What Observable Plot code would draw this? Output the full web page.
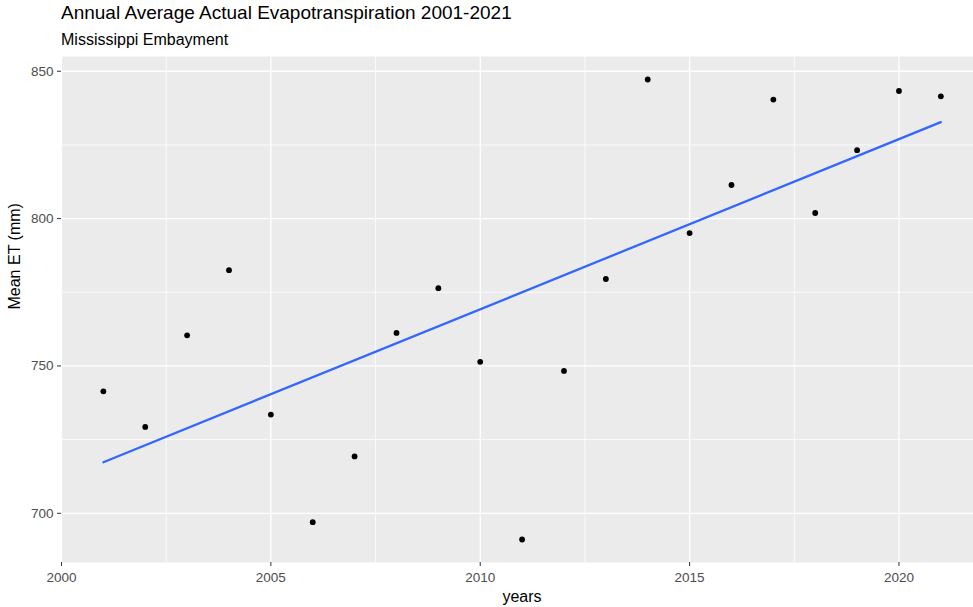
<!DOCTYPE html>
<html>
<head>
<meta charset="utf-8">
<script src="https://cdn.jsdelivr.net/npm/d3@7"></script>
<script src="https://cdn.jsdelivr.net/npm/@observablehq/plot@0.6"></script>
<style>
  html, body { margin: 0; padding: 0; background: white; overflow: hidden; }
  #wrap { position: relative; width: 973px; height: 607px; font-family: "Liberation Sans", Arial, sans-serif; }
  #head { position: relative; height: 52px; }
  #title { position: absolute; left: 61px; top: 3.4px; font-size: 19px; line-height: 19px; color: #000; white-space: nowrap; }
  #subtitle { position: absolute; left: 61px; top: 31.8px; font-size: 16px; line-height: 16px; color: #000; white-space: nowrap; }
  svg { display: block; }
</style>
</head>
<body>
<div id="wrap">
  <div id="head">
    <div id="title">Annual Average Actual Evapotranspiration 2001-2021</div>
    <div id="subtitle">Mississippi Embayment</div>
  </div>
  <div id="chart"></div>
</div>
<script>
const years = [2001, 2002, 2003, 2004, 2005, 2006, 2007, 2008, 2009, 2010, 2011,
               2012, 2013, 2014, 2015, 2016, 2017, 2018, 2019, 2020, 2021];
const meanET = [741.4, 729.3, 760.4, 782.5, 733.5, 697.0, 719.3, 761.2, 776.4, 751.4, 691.1,
                748.3, 779.5, 847.2, 795.1, 811.4, 840.4, 801.9, 823.2, 843.3, 841.5];
const xTicks = [2000, 2005, 2010, 2015, 2020];
const xMinor = [2002.5, 2007.5, 2012.5, 2017.5];
const yTicks = [700, 750, 800, 850];
const yMinor = [725, 775, 825];

const data = years.map((year, i) => ({year, et: meanET[i]}));

const chart = Plot.plot({
  width: 973,
  height: 555,
  marginTop: 4,
  marginBottom: 45,
  marginLeft: 61,
  marginRight: 0,
  style: {fontFamily: "'Liberation Sans', Arial, sans-serif", background: "white", overflow: "visible"},
  x: {domain: [2000, 2021.78]},
  y: {domain: [683.3, 855]},
  marks: [
    Plot.frame({fill: "#EBEBEB", stroke: "none"}),
    Plot.gridX(xMinor, {stroke: "white", strokeOpacity: 1, strokeWidth: 0.8}),
    Plot.gridY(yMinor, {stroke: "white", strokeOpacity: 1, strokeWidth: 0.8}),
    Plot.gridX(xTicks, {stroke: "white", strokeOpacity: 1, strokeWidth: 1.3}),
    Plot.gridY(yTicks, {stroke: "white", strokeOpacity: 1, strokeWidth: 1.3}),
    Plot.axisX(xTicks, {tickSize: 4, tickPadding: 6, fontSize: 13.5, stroke: "#333333", fill: "#4D4D4D", label: null, tickFormat: "d"}),
    Plot.axisY(yTicks, {tickSize: 4, tickPadding: 4, fontSize: 13.5, stroke: "#333333", fill: "#4D4D4D", label: null, tickFormat: "d"}),
    Plot.dot(data, {x: "year", y: "et", r: 2.9, fill: "black", stroke: "none"}),
    Plot.linearRegressionY(data, {x: "year", y: "et", stroke: "#3366FF", strokeWidth: 2.3, ci: 0}),
    Plot.text(["years"], {text: d => d, frameAnchor: "bottom", dx: 4.5, dy: 39, lineAnchor: "bottom", fontSize: 16, fill: "black"}),
    Plot.text(["Mean ET (mm)"], {text: d => d, frameAnchor: "left", dx: -42, rotate: -90, lineAnchor: "bottom", fontSize: 16, fill: "black"})
  ]
});
document.getElementById("chart").appendChild(chart);
</script>
</body>
</html>
